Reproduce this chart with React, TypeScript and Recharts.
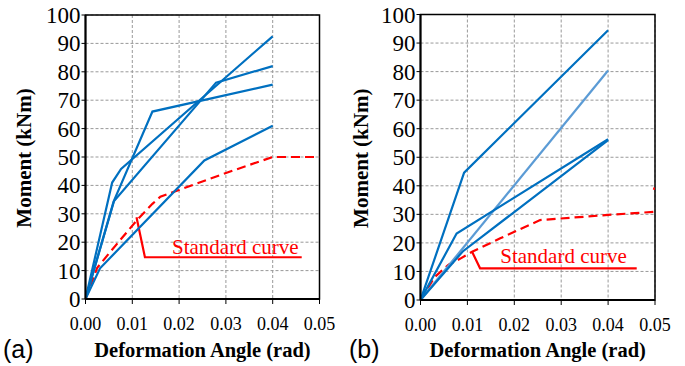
import React from 'react';
import { LineChart, Line, XAxis, YAxis, CartesianGrid, ReferenceArea, ReferenceDot, Label } from 'recharts';

// ---------- shared axis data ----------
const xTicks = [0, 0.01, 0.02, 0.03, 0.04, 0.05];
const xTickLabels = ['0.00', '0.01', '0.02', '0.03', '0.04', '0.05'];
const yTicks = [0, 10, 20, 30, 40, 50, 60, 70, 80, 90, 100];
const yTickLabels = ['0', '10', '20', '30', '40', '50', '60', '70', '80', '90', '100'];

// ---------- panel (a) ----------
const aCurve1 = [{ x: 0, y: 0 }, { x: 0.0057, y: 41 }, { x: 0.0076, y: 45.8 }, { x: 0.04, y: 92.5 }];
const aCurve2 = [{ x: 0, y: 0 }, { x: 0.006, y: 34.3 }, { x: 0.0143, y: 66 }, { x: 0.04, y: 75.5 }];
const aCurve3 = [{ x: 0, y: 0 }, { x: 0.0061, y: 34.5 }, { x: 0.0279, y: 76.2 }, { x: 0.04, y: 82 }];
const aCurve4 = [{ x: 0, y: 0 }, { x: 0.0031, y: 10.8 }, { x: 0.0254, y: 48.8 }, { x: 0.04, y: 61 }];
const aStandard = [
  { x: 0, y: 0 }, { x: 0.0025, y: 11 }, { x: 0.005, y: 16 }, { x: 0.011, y: 27.8 },
  { x: 0.0143, y: 33.5 }, { x: 0.016, y: 36 }, { x: 0.02, y: 38.4 }, { x: 0.026, y: 42 },
  { x: 0.032, y: 45.5 }, { x: 0.04, y: 50 }, { x: 0.05, y: 50 },
];
const aLeader = [{ x: 0.0109, y: 28.8 }, { x: 0.0127, y: 14.7 }, { x: 0.0462, y: 14.7 }];
const aLabel = { x: 0.032, y: 18.4, text: 'Standard curve' };

// ---------- panel (b) ----------
const bCurve1 = [{ x: 0, y: 0 }, { x: 0.0093, y: 44.6 }, { x: 0.04, y: 94.5 }];
const bCurve2 = [{ x: 0, y: 0 }, { x: 0.0077, y: 23.3 }, { x: 0.04, y: 56.3 }];
const bCurve3 = [{ x: 0, y: 0 }, { x: 0.009, y: 17 }, { x: 0.04, y: 56 }];
const bLight = [{ x: 0, y: 0 }, { x: 0.04, y: 80.4 }];
const bStandard = [
  { x: 0, y: 0 }, { x: 0.003, y: 8 }, { x: 0.006, y: 12.4 }, { x: 0.0085, y: 14.5 },
  { x: 0.011, y: 16.9 }, { x: 0.017, y: 21.6 }, { x: 0.0255, y: 28 }, { x: 0.04, y: 29.8 },
  { x: 0.05, y: 30.9 },
];
const bStray = [{ x: 0.0496, y: 39.1 }, { x: 0.05, y: 38.9 }];
const bLeader = [{ x: 0.011, y: 16.9 }, { x: 0.0127, y: 11.1 }, { x: 0.0461, y: 11.1 }];
const bLabel = { x: 0.0305, y: 15.4, text: 'Standard curve' };

const SERIF = "'Liberation Serif', Tinos, 'Times New Roman', 'DejaVu Serif', serif";
const SANS = "'Liberation Sans', Arial, Helvetica, sans-serif";
const BLUE = '#0070C0';
const LIGHT = '#5B9BD5';
const RED = '#FF0000';

type Pt = { x: number; y: number };

function labelFor(list: number[], labels: string[], v: number) {
  const i = list.findIndex((t) => Math.abs(t - v) < 1e-9);
  return i >= 0 ? labels[i] : String(v);
}

function XTick(p: any) {
  return (
    <text x={p.x} y={p.y} dy="0.71em" textAnchor="middle" fill="#000"
      style={{ fontFamily: SERIF, fontSize: 18 }}>
      {labelFor(xTicks, xTickLabels, p.payload.value)}
    </text>
  );
}

function YTick(p: any) {
  return (
    <text x={p.x} y={p.y} dy="0.35em" textAnchor="end" fill="#000"
      style={{ fontFamily: SERIF, fontSize: 23 }}>
      {labelFor(yTicks, yTickLabels, p.payload.value)}
    </text>
  );
}

function Panel(props: {
  width: number; plotLeft: number; plotRight: number; plotTop: number; plotBottom: number;
  tag: string; tagX: number; yTitleX: number;
  blues: Pt[][]; lights: Pt[][]; standard: Pt[]; stray?: Pt[]; leader: Pt[];
  label: { x: number; y: number; text: string };
}) {
  const { width, plotLeft, plotRight, plotTop, plotBottom } = props;
  const height = 366;
  return (
    <LineChart width={width} height={height}
      margin={{ top: plotTop, right: width - plotRight, bottom: 0, left: 0 }}>
      <CartesianGrid stroke="#999" strokeDasharray="3 2" strokeWidth={1} />
      <XAxis type="number" dataKey="x" domain={[0, 0.05]} ticks={xTicks}
        height={height - plotBottom} tickSize={5} tickMargin={13}
        axisLine={{ stroke: '#000', strokeWidth: 2 }} tickLine={{ stroke: '#000', strokeWidth: 1 }}
        tick={<XTick />} interval={0} allowDataOverflow>
        <Label content={(lp: any) => {
          const vb = lp.viewBox || { x: 0, width: 0 };
          return (
            <g>
              <text x={vb.x + vb.width / 2} y={357} textAnchor="middle" fill="#000"
                style={{ fontFamily: SERIF, fontSize: 20.5, fontWeight: 700 }}>Deformation Angle (rad)</text>
              <text x={props.tagX} y={358} textAnchor="start" fill="#000"
                style={{ fontFamily: SANS, fontSize: 25 }}>{props.tag}</text>
            </g>
          );
        }} />
      </XAxis>
      <YAxis type="number" domain={[0, 100]} ticks={yTicks} width={plotLeft}
        tickSize={4} tickMargin={1}
        axisLine={{ stroke: '#000', strokeWidth: 2 }} tickLine={{ stroke: '#000', strokeWidth: 1 }}
        tick={<YTick />} interval={0} allowDataOverflow>
        <Label content={(lp: any) => {
          const vb = lp.viewBox || { y: 0, height: 0 };
          const cy = vb.y + vb.height / 2 + 1;
          const cx = props.yTitleX;
          return (
            <text x={cx} y={cy} transform={`rotate(-90, ${cx}, ${cy})`} textAnchor="middle"
              dominantBaseline="central" fill="#000"
              style={{ fontFamily: SERIF, fontSize: 21, fontWeight: 700 }}>Moment (kNm)</text>
          );
        }} />
      </YAxis>
      <ReferenceArea x1={0} x2={0.05} y1={0} y2={100} fill="none" fillOpacity={0}
        stroke="#000" strokeWidth={1.5} ifOverflow="visible" />
      <Line data={props.standard} dataKey="y" type="linear" stroke={RED} strokeWidth={2.2}
        strokeDasharray="9 5" dot={false} activeDot={false} isAnimationActive={false} />
      {props.stray ? (
        <Line data={props.stray} dataKey="y" type="linear" stroke={RED} strokeWidth={2.2}
          dot={false} activeDot={false} isAnimationActive={false} />
      ) : null}
      <Line data={props.leader} dataKey="y" type="linear" stroke={RED} strokeWidth={2.2}
        dot={false} activeDot={false} isAnimationActive={false} />
      {props.lights.map((d, i) => (
        <Line key={'l' + i} data={d} dataKey="y" type="linear" stroke={LIGHT} strokeWidth={2.2}
          dot={false} activeDot={false} isAnimationActive={false} />
      ))}
      {props.blues.map((d, i) => (
        <Line key={'b' + i} data={d} dataKey="y" type="linear" stroke={BLUE} strokeWidth={2.2}
          dot={false} activeDot={false} isAnimationActive={false} />
      ))}
      <ReferenceDot x={props.label.x} y={props.label.y} r={0} fill="none" stroke="none"
        ifOverflow="visible"
        label={{ value: props.label.text, position: 'center', fill: RED, fontSize: 21, style: { fontFamily: SERIF } }} />
    </LineChart>
  );
}

export default function App() {
  return (
    <div style={{ position: 'absolute', left: 0, top: 0, width: 685, height: 366, background: '#fff', fontFamily: SERIF }}>
      <div style={{ position: 'absolute', left: 0, top: 0 }}>
        <Panel width={340} plotLeft={85.5} plotRight={319.5} plotTop={15} plotBottom={299}
          tag="(a)" tagX={3} yTitleX={24}
          blues={[aCurve1, aCurve2, aCurve3, aCurve4]} lights={[]} standard={aStandard}
          leader={aLeader} label={aLabel} />
      </div>
      <div style={{ position: 'absolute', left: 340, top: 0 }}>
        <Panel width={345} plotLeft={80.5} plotRight={315} plotTop={14.5} plotBottom={300}
          tag="(b)" tagX={9} yTitleX={21}
          blues={[bCurve1, bCurve2, bCurve3]} lights={[bLight]} standard={bStandard}
          stray={bStray} leader={bLeader} label={bLabel} />
      </div>
    </div>
  );
}
